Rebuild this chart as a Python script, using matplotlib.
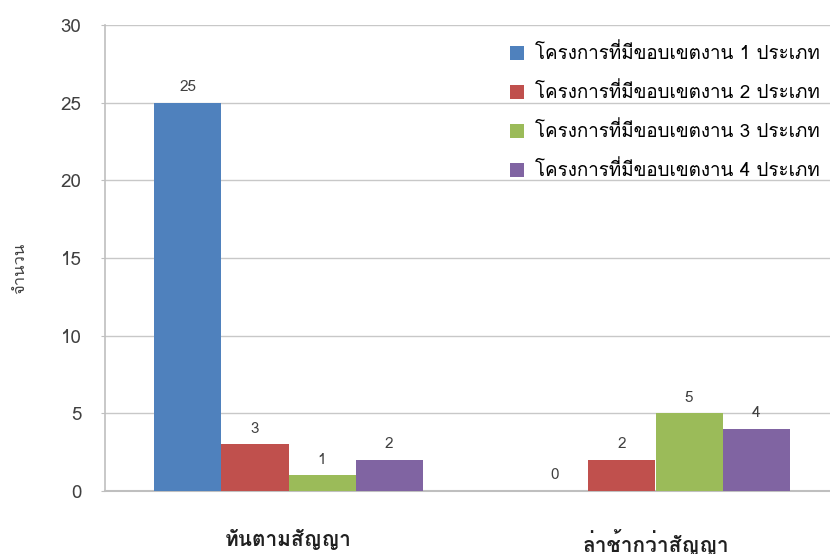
import matplotlib
matplotlib.use("Agg")
import matplotlib.pyplot as plt
from matplotlib import font_manager
from matplotlib.ft2font import FT2Font
import numpy as np

# Data
categories = ["ทันตามสัญญา", "ล่าช้ากว่าสัญญา"]
series_labels = [
    "โครงการที่มีขอบเขตงาน 1 ประเภท",
    "โครงการที่มีขอบเขตงาน 2 ประเภท",
    "โครงการที่มีขอบเขตงาน 3 ประเภท",
    "โครงการที่มีขอบเขตงาน 4 ประเภท",
]
type1 = [25, 0]
type2 = [3, 2]
type3 = [1, 5]
type4 = [2, 4]
y_ticks = [0, 5, 10, 15, 20, 25, 30]
y_label = "จำนวน"

colors = ["#4F81BD", "#C0504D", "#9BBB59", "#8064A2"]


def thai_families():
    """Installed font families that have Thai glyphs."""
    found = []
    for f in font_manager.fontManager.ttflist:
        try:
            cmap = FT2Font(f.fname).get_charmap()
        except Exception:
            continue
        if 0x0E01 in cmap and 0x0E32 in cmap and f.name not in found:
            found.append(f.name)
    return found


plt.rcParams["font.family"] = thai_families() + ["DejaVu Sans"]

fig = plt.figure(figsize=(8.3, 5.54), dpi=100)
ax = fig.add_axes([105 / 830, 63 / 554, 734 / 830, 466 / 554])

x = np.arange(len(categories))
bw = 0.1826
series = [type1, type2, type3, type4]
for i, (vals, col, lab) in enumerate(zip(series, colors, series_labels)):
    pos = x + (i - 1.5) * bw
    ax.bar(pos, vals, width=bw, color=col, label=lab, zorder=3)
    for px, v in zip(pos, vals):
        ax.text(px, v + 0.55, str(v), ha="center", va="bottom",
                fontsize=11, color="#404040", zorder=4)

ax.set_xlim(-0.5, 1.5)
ax.set_ylim(0, 30)
ax.set_yticks(y_ticks)
ax.set_xticks(x)
ax.set_xticklabels(categories, fontsize=15, color="#202020",
                   fontweight="bold")
ax.tick_params(axis="x", length=0, pad=27)
ax.tick_params(axis="y", labelsize=13.5, labelcolor="#404040",
               length=3, color="#BFBFBF", pad=14)
ax.yaxis.grid(True, color="#C8C8C8", linewidth=1, zorder=0)
ax.set_axisbelow(True)
for s in ["top", "right"]:
    ax.spines[s].set_visible(False)
ax.spines["left"].set_color("#BFBFBF")
ax.spines["bottom"].set_color("#BFBFBF")
ax.spines["left"].set_linewidth(1.2)
ax.spines["bottom"].set_linewidth(1.5)

fig.text(20 / 830, 1 - 268 / 554, y_label, rotation=90, ha="center",
         va="center", fontsize=12, color="#404040")

leg = ax.legend(loc="upper left", bbox_to_anchor=(502 / 830, 1 - 36 / 554),
                bbox_transform=fig.transFigure, frameon=False,
                fontsize=13.5, labelspacing=1.02, handlelength=0.75,
                handleheight=0.75, handletextpad=0.6, borderaxespad=0)

fig.savefig("out.png", dpi=100)
